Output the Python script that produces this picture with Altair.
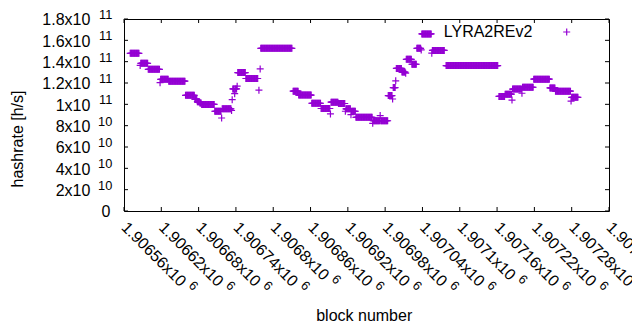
import altair as alt
import pandas as pd

# ---- data (hashrate in units of 1e10 h/s) ----
run_start = [1906570, 1906586, 1906587, 1906599, 1906618, 1906619, 1906632, 1906659,
             1906674, 1906678, 1906682, 1906685, 1906706, 1906717, 1906718, 1906733,
             1906734, 1906735, 1906738, 1906739, 1906742, 1906743, 1906756, 1906777,
             1906779, 1906780, 1906832, 1906841, 1906862, 1906877, 1906892, 1906893,
             1906905, 1906916, 1906917, 1906925, 1906926, 1906933, 1906960, 1906961,
             1906972, 1906973, 1906985, 1906992, 1906993, 1906997, 1906998, 1907007,
             1907013, 1907014, 1907023, 1907031, 1907038, 1907039, 1907055, 1907056,
             1907078, 1907163, 1907173, 1907184, 1907185, 1907200, 1907201, 1907219,
             1907245, 1907254, 1907279, 1907280]
run_end = [1906584, 1906586, 1906598, 1906617, 1906618, 1906631, 1906658, 1906673,
           1906677, 1906681, 1906684, 1906705, 1906716, 1906717, 1906732, 1906733,
           1906734, 1906737, 1906738, 1906741, 1906742, 1906755, 1906775, 1906777,
           1906779, 1906830, 1906840, 1906861, 1906876, 1906891, 1906892, 1906904,
           1906915, 1906916, 1906924, 1906925, 1906932, 1906959, 1906960, 1906971,
           1906972, 1906984, 1906991, 1906992, 1906996, 1906997, 1907006, 1907012,
           1907013, 1907022, 1907030, 1907037, 1907038, 1907054, 1907055, 1907075,
           1907161, 1907172, 1907183, 1907184, 1907199, 1907200, 1907218, 1907244,
           1907253, 1907278, 1907279, 1907290]
run_value = [14.78, 13.65, 13.84, 13.28, 12.03, 12.34, 12.17, 10.84,
             10.46, 10.25, 10.13, 9.99, 9.35, 8.72, 9.58, 9.42,
             10.44, 11.44, 11.0, 11.44, 11.7, 12.98, 12.42, 11.33,
             13.32, 15.25, 11.23, 10.87, 10.1, 9.61, 9.1, 10.2,
             10.08, 9.35, 9.58, 9.03, 9.35, 8.78, 8.22, 8.46,
             8.95, 8.46, 10.82, 10.5, 11.57, 12.2, 13.37, 13.02,
             12.92, 14.22, 13.76, 15.25, 15.1, 16.6, 14.8, 15.05,
             13.63, 10.74, 10.95, 10.4, 11.43, 11.04, 11.6, 12.36,
             11.54, 11.23, 10.31, 10.66]

x_ticks = [1906560, 1906620, 1906680, 1906740, 1906800, 1906860, 1906920,
           1906980, 1907040, 1907100, 1907160, 1907220, 1907280, 1907340]
x_main = ["1.90656x10", "1.90662x10", "1.90668x10", "1.90674x10", "1.9068x10",
          "1.90686x10", "1.90692x10", "1.90698x10", "1.90704x10", "1.9071x10",
          "1.90716x10", "1.90722x10", "1.90728x10", "1.90734x10"]
x_exp = "6"

y_ticks = [0, 2, 4, 6, 8, 10, 12, 14, 16, 18]
y_main = ["0", "2x10", "4x10", "6x10", "8x10", "1x10", "1.2x10", "1.4x10", "1.6x10", "1.8x10"]
y_exp = ["", "10", "10", "10", "10", "11", "11", "11", "11", "11"]

series_name = "LYRA2REv2"

# ---- build tables ----
blocks, values = [], []
for s, e, v in zip(run_start, run_end, run_value):
    for b in range(s, e + 1):
        blocks.append(b)
        values.append(v)
pts = pd.DataFrame({"block": blocks, "hashrate": values})
xt = pd.DataFrame({"xt": x_ticks, "lab": x_main, "ex": [x_exp] * len(x_ticks)})
yt = pd.DataFrame({"yv": y_ticks, "lab": y_main, "ex": y_exp})

W, H = 485, 192
PURPLE = "#9400D3"
FONT = "Liberation Sans"
PLUS = "M-1,0L1,0M0,-1L0,1"

xs = alt.Scale(domain=[1906560, 1907340], nice=False, zero=False)
ys = alt.Scale(domain=[0, 18], nice=False, zero=False)
X = lambda f: alt.X(f, type="quantitative", scale=xs, axis=None)
Y = lambda f: alt.Y(f, type="quantitative", scale=ys, axis=None)

points = alt.Chart(pts).mark_point(
    shape=PLUS, size=49, filled=False, color=PURPLE, strokeWidth=1.2, opacity=1
).encode(x=X("block"), y=Y("hashrate"))

# inward ticks on all four sides
xb = alt.Chart(xt).mark_rule(color="black", strokeWidth=1).encode(
    x=X("xt"), y=alt.value(H), y2=alt.value(H - 4))
xtop = alt.Chart(xt).mark_rule(color="black", strokeWidth=1).encode(
    x=X("xt"), y=alt.value(0), y2=alt.value(4))
yl = alt.Chart(yt).mark_rule(color="black", strokeWidth=1).encode(
    y=Y("yv"), x=alt.value(0), x2=alt.value(4))
yr = alt.Chart(yt).mark_rule(color="black", strokeWidth=1).encode(
    y=Y("yv"), x=alt.value(W), x2=alt.value(W - 4))

# x tick labels (rotated) with exponents
xlab = alt.Chart(xt).mark_text(
    angle=45, align="left", baseline="alphabetic", fontSize=16, font=FONT,
    color="black", dy=4.8
).encode(x=X("xt"), y=alt.value(H + 14), text="lab:N")
xexp_long = alt.Chart(xt).transform_filter("length(datum.lab) == 10").mark_text(
    angle=45, align="left", baseline="alphabetic", fontSize=12.8, font=FONT,
    color="black", dx=88.6, dy=-1.9
).encode(x=X("xt"), y=alt.value(H + 14), text="ex:N")
xexp_short = alt.Chart(xt).transform_filter("length(datum.lab) == 9").mark_text(
    angle=45, align="left", baseline="alphabetic", fontSize=12.8, font=FONT,
    color="black", dx=79.7, dy=-1.9
).encode(x=X("xt"), y=alt.value(H + 14), text="ex:N")

# y tick labels with exponents
ylab = alt.Chart(yt).transform_filter("datum.yv > 0").mark_text(
    align="right", baseline="alphabetic", fontSize=16, font=FONT, color="black", dy=6.4
).encode(y=Y("yv"), x=alt.value(-33.6), text="lab:N")
yzero = alt.Chart(yt).transform_filter("datum.yv == 0").mark_text(
    align="right", baseline="alphabetic", fontSize=16, font=FONT, color="black", dy=6.4
).encode(y=Y("yv"), x=alt.value(-13.5), text="lab:N")
yexp = alt.Chart(yt).transform_filter("datum.yv > 0").mark_text(
    align="right", baseline="alphabetic", fontSize=12.8, font=FONT, color="black", dy=0
).encode(y=Y("yv"), x=alt.value(-11.7), text="ex:N")

# axis titles
ttl = pd.DataFrame({"t": ["hashrate [h/s]"]})
ytitle = alt.Chart(ttl).mark_text(
    angle=270, align="center", baseline="alphabetic", fontSize=16, font=FONT, color="black"
).encode(x=alt.value(-101), y=alt.value(120), text="t:N")
ttl2 = pd.DataFrame({"t": ["block number"]})
xtitle = alt.Chart(ttl2).mark_text(
    align="center", baseline="alphabetic", fontSize=16, font=FONT, color="black"
).encode(x=alt.value(240.2), y=alt.value(H + 110), text="t:N")

# key (text left, sample right, as in the original)
key = pd.DataFrame({"t": [series_name]})
keytext = alt.Chart(key).mark_text(
    align="right", baseline="alphabetic", fontSize=16, font=FONT, color="black"
).encode(x=alt.value(408.4), y=alt.value(18), text="t:N")
keysym = alt.Chart(key).mark_point(
    shape=PLUS, size=49, filled=False, color=PURPLE, strokeWidth=1.2, opacity=1
).encode(x=alt.value(442.7), y=alt.value(13))

chart = alt.layer(
    points, xb, xtop, yl, yr, xlab, xexp_long, xexp_short, ylab, yzero, yexp,
    ytitle, xtitle, keytext, keysym
).properties(
    width=W, height=H,
    autosize=alt.AutoSizeParams(type="none"),
    padding={"left": 116, "top": 11, "right": 23, "bottom": 111},
    background="white",
).configure_view(stroke="black", strokeWidth=1)

chart.save("out.html", embed_options={"renderer": "svg", "actions": False})
